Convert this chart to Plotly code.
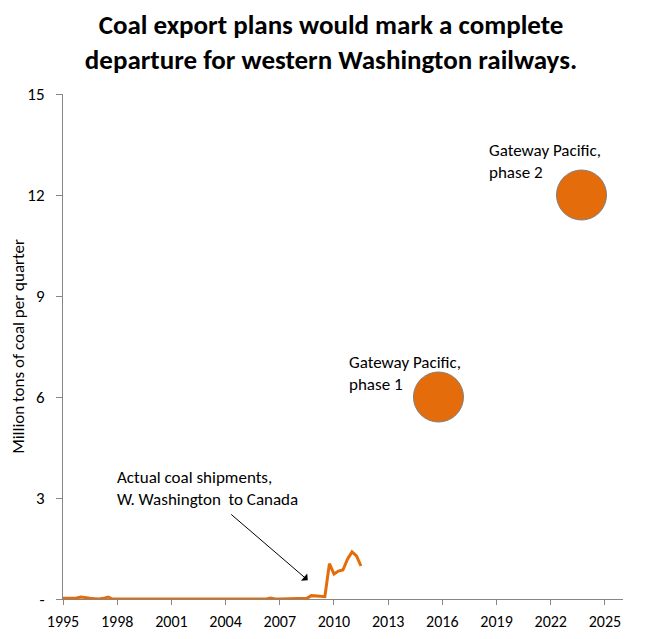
import pandas as pd
import plotly.graph_objects as go

# Quarterly coal shipments, W. Washington to Canada (million tons), starting 1995 Q1
shipments = [
    0.02, 0.02, 0.03, 0.03,   # 1995
    0.06, 0.03, 0.02, 0.01,   # 1996
    0.0, 0.02, 0.06, 0.0,     # 1997
    0.0, 0.0, 0.0, 0.0,       # 1998
    0.0, 0.0, 0.0, 0.0,       # 1999
    0.0, 0.0, 0.0, 0.0,       # 2000
    0.0, 0.0, 0.0, 0.0,       # 2001
    0.0, 0.0, 0.0, 0.0,       # 2002
    0.0, 0.0, 0.0, 0.0,       # 2003
    0.0, 0.0, 0.0, 0.0,       # 2004
    0.0, 0.0, 0.0, 0.0,       # 2005
    0.0, 0.0, 0.03, 0.0,      # 2006
    0.0, 0.0, 0.0, 0.0,       # 2007
    0.0, 0.0, 0.02, 0.1,      # 2008
    0.1, 0.08, 0.07, 1.05,    # 2009
    0.74, 0.83, 0.86, 1.18,   # 2010
    1.4, 1.28, 0.98,          # 2011
]
quarters = pd.date_range(start="1995-01-01", periods=len(shipments), freq="QS")

# Planned export terminal capacity (million tons per quarter)
plan_names = ["Gateway Pacific,<br>phase 1", "Gateway Pacific,<br>phase 2"]
plan_dates = ["2015-10-15", "2023-09-15"]
plan_values = [6, 12]

y_ticks = [0, 3, 6, 9, 12, 15]
y_labels = ["-", "3", "6", "9", "12", "15"]

orange = "#E46C0A"
font = "Carlito, Lato, sans-serif"

fig = go.Figure()

fig.add_trace(go.Scatter(
    x=quarters, y=shipments, mode="lines",
    line=dict(color=orange, width=3),
    showlegend=False, hoverinfo="x+y"
))

fig.add_trace(go.Scatter(
    x=plan_dates, y=plan_values, mode="markers",
    marker=dict(size=50, color=orange, line=dict(color="#7f7f7f", width=1)),
    text=plan_names, hoverinfo="text+y", showlegend=False
))

# labels for the two bubbles
fig.add_annotation(x="2010-09-20", y=7.4, text=plan_names[0], showarrow=False,
                   xanchor="left", yanchor="top", align="left")
fig.add_annotation(x="2018-06-20", y=13.69, text=plan_names[1], showarrow=False,
                   xanchor="left", yanchor="top", align="left")

# the arrow pointing at actual shipments
fig.add_annotation(x="1997-11-10", y=3.98, text="Actual coal shipments,<br>W. Washington  to Canada",
                   showarrow=False, xanchor="left", yanchor="top", align="left")
fig.add_annotation(x="2008-07-20", y=0.56, ax="2004-03-25", ay=2.55,
                   axref="x", ayref="y", text="", showarrow=True,
                   arrowhead=1, arrowsize=1.6, arrowwidth=1, arrowcolor="#000000")

fig.update_annotations(font=dict(family=font, size=17, color="#000000"))

# page body has an 8px margin, so the figure is a bit smaller than the window
fig.update_layout(
    title=dict(text="<b>Coal export plans would mark a complete<br>departure for western Washington railways.</b>",
               x=0.5, xanchor="center", y=1 - 26 / 623, yanchor="middle",
               font=dict(family=font, size=27, color="#000000")),
    width=646, height=623,
    margin=dict(l=55, r=31, t=86, b=32),
    plot_bgcolor="white", paper_bgcolor="white",
    font=dict(family=font, size=17, color="#000000"),
)

fig.update_xaxes(
    type="date", range=["1995-01-01", "2026-01-01"],
    tick0="1995-01-01", dtick="M36", tickformat="%Y",
    showgrid=False, zeroline=False, automargin=False,
    showline=True, linecolor="#868686", linewidth=1,
    ticks="outside", ticklen=5, tickcolor="#868686", ticklabelstandoff=3,
    tickfont=dict(family=font, size=16, color="#000000"),
)
fig.update_yaxes(
    range=[0, 15], tickvals=y_ticks, ticktext=y_labels,
    showgrid=False, zeroline=False, automargin=False,
    showline=True, linecolor="#868686", linewidth=1,
    ticks="outside", ticklen=6, tickcolor="#868686", ticklabelstandoff=8,
    tickfont=dict(family=font, size=17, color="#000000"),
    title=dict(text="Million tons of coal per quarter", standoff=5,
               font=dict(family=font, size=17, color="#000000")),
)

fig.write_html("out.html")
